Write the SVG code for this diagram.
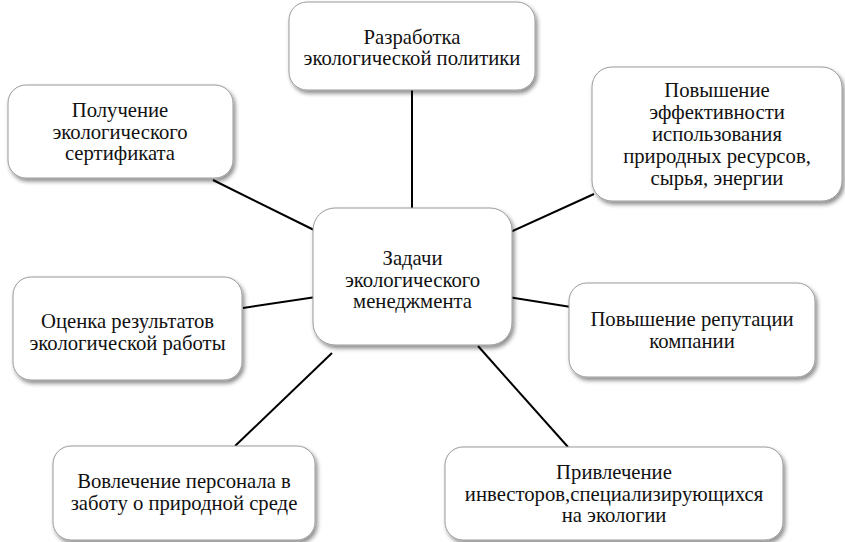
<svg xmlns="http://www.w3.org/2000/svg" width="845" height="542" viewBox="0 0 845 542">
<defs>
<filter id="sh" x="-10%" y="-10%" width="125%" height="130%">
<feDropShadow dx="2" dy="3" stdDeviation="2" flood-color="#000" flood-opacity="0.45"/>
</filter>
</defs>
<rect width="845" height="542" fill="#fff"/>
<g id="connectors" stroke="#000" stroke-width="2">
<line x1="412" y1="90" x2="412" y2="210"/>
<line x1="213" y1="180" x2="316" y2="231"/>
<line x1="243" y1="308" x2="316" y2="297"/>
<line x1="332" y1="353" x2="235" y2="446"/>
<line x1="508" y1="233" x2="594" y2="194"/>
<line x1="508" y1="297" x2="571" y2="307"/>
<line x1="478" y1="346" x2="568" y2="447"/>
</g>
<g id="boxes" fill="#fff" stroke="#9a9a9a" stroke-width="1" filter="url(#sh)">
<rect id="box-center" x="313" y="208" width="199" height="137" rx="22"/>
<rect id="box-top" x="289" y="2" width="246" height="88" rx="18"/>
<rect id="box-topright" x="592" y="67" width="250" height="134" rx="20"/>
<rect id="box-topleft" x="8" y="85" width="225" height="93" rx="18"/>
<rect id="box-leftmid" x="13" y="277" width="229" height="103" rx="18"/>
<rect id="box-rightmid" x="569" y="283" width="246" height="94" rx="18"/>
<rect id="box-bottomleft" x="53" y="446" width="262" height="94" rx="18"/>
<rect id="box-bottomright" x="445" y="447" width="338" height="93" rx="18"/>
</g>
<g font-family="Liberation Serif" font-size="20.7" fill="#111" text-anchor="middle">
<g id="center">
<text x="412.5" y="265">Задачи</text>
<text x="412.5" y="286.5">экологического</text>
<text x="412.5" y="308">менеджмента</text>
</g>
<g id="top">
<text x="412" y="44">Разработка</text>
<text x="412" y="65">экологической политики</text>
</g>
<g id="topright">
<text x="717" y="97">Повышение</text>
<text x="717" y="119">эффективности</text>
<text x="717" y="141">использования</text>
<text x="717" y="163">природных ресурсов,</text>
<text x="717" y="185">сырья, энергии</text>
</g>
<g id="topleft">
<text x="120" y="117">Получение</text>
<text x="120" y="138.5">экологического</text>
<text x="120" y="160">сертификата</text>
</g>
<g id="leftmid">
<text x="127.5" y="328">Оценка результатов</text>
<text x="127.5" y="349.5">экологической работы</text>
</g>
<g id="rightmid">
<text x="692" y="326">Повышение репутации</text>
<text x="692" y="347.5">компании</text>
</g>
<g id="bottomleft">
<text x="184" y="488">Вовлечение персонала в</text>
<text x="184" y="510">заботу о природной среде</text>
</g>
<g id="bottomright">
<text x="614" y="479">Привлечение</text>
<text x="614" y="500.5">инвесторов,специализирующихся</text>
<text x="614" y="522">на экологии</text>
</g>
</g>
</svg>
